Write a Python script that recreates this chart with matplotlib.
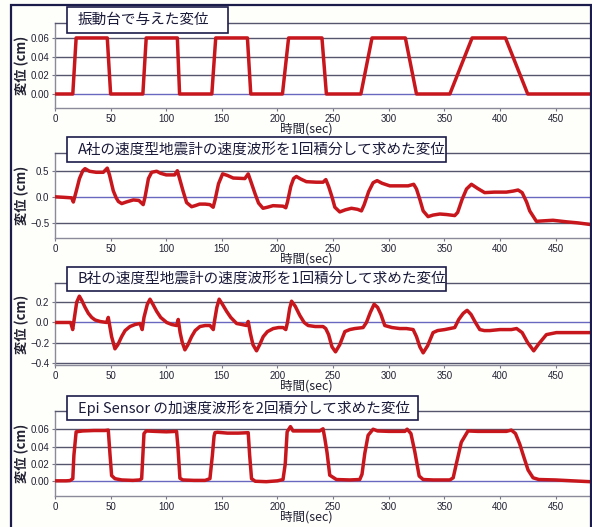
import numpy as np
import matplotlib
matplotlib.use("Agg")
import matplotlib.pyplot as plt
from matplotlib.patches import Rectangle
from matplotlib.font_manager import FontProperties

plt.rcParams['font.family'] = ['Noto Sans CJK JP', 'DejaVu Sans']

# shaking-table input (trapezoid pulses)
t_table = [0, 16, 19, 47, 50, 79, 82, 110, 112, 141, 144.5, 173, 176,
           204.5, 210, 240, 244, 275, 285, 315, 325, 355, 375, 405, 425, 481]
d_table = [0, 0, 0.06, 0.06, 0, 0, 0.06, 0.06, 0, 0, 0.06, 0.06, 0,
           0, 0.06, 0.06, 0, 0, 0.06, 0.06, 0, 0, 0.06, 0.06, 0, 0]

# company A velocity seismometer, integrated once
t_a = [0, 8, 15, 16.5, 19, 22, 25, 27, 31, 37, 43.4, 47, 49, 52.4, 55, 57, 60,
       64, 70.4, 75.4, 79.3, 81, 84, 86.9, 91.4, 95, 100, 107.6, 110, 112, 115,
       118.3, 122.8, 126, 130, 135, 139.3, 142.2, 144, 147, 150.7, 155, 160.2,
       170.7, 173.7, 176, 180, 183, 187, 191, 196, 205, 207.5, 209, 212, 214.5,
       217, 221, 226, 235, 241, 243.5, 246, 249, 251.6, 256, 261, 266.5, 272,
       275.5, 278, 282, 286, 289.6, 294, 301, 310, 317.5, 322.5, 325, 328, 331,
       335.4, 340, 346, 352, 359.4, 362, 366, 370, 374.4, 380, 386.3, 395,
       405.8, 412, 416.3, 420, 424, 426.8, 432.8, 440, 447.7, 460, 470, 481]
d_a = [0, -0.01, -0.02, -0.1, 0.1, 0.35, 0.5, 0.54, 0.49, 0.47, 0.47, 0.55,
       0.42, 0.115, -0.02, -0.09, -0.13, -0.1, -0.06, -0.07, -0.15, 0.0, 0.35,
       0.47, 0.49, 0.45, 0.42, 0.42, 0.5, 0.35, 0.12, -0.11, -0.19, -0.17,
       -0.14, -0.14, -0.15, -0.2, -0.05, 0.25, 0.44, 0.41, 0.36, 0.35, 0.44,
       0.3, 0.05, -0.12, -0.22, -0.2, -0.17, -0.18, -0.21, -0.1, 0.2, 0.35,
       0.39, 0.34, 0.29, 0.28, 0.28, 0.33, 0.2, 0.0, -0.2, -0.29, -0.25, -0.22,
       -0.24, -0.27, -0.15, 0.1, 0.27, 0.31, 0.26, 0.21, 0.21, 0.21, 0.24,
       0.15, -0.05, -0.27, -0.38, -0.35, -0.33, -0.34, -0.36, -0.3, -0.05,
       0.15, 0.24, 0.16, 0.08, 0.09, 0.09, 0.11, 0.13, 0.08, -0.1, -0.27,
       -0.47, -0.46, -0.45, -0.48, -0.5, -0.53]

# company B velocity seismometer, integrated once
t_b = [0, 14.1, 15.9, 17.5, 19.5, 21.9, 24, 27, 30, 33, 36, 40.4, 46.4, 47.9,
       49, 50.9, 53.9, 56.5, 59.9, 63, 67.4, 72, 76.4, 78.4, 80, 83, 85.4, 88,
       91.4, 95, 100.4, 105, 109.3, 110.8, 112.5, 114.5, 116.8, 119.5, 122.8,
       126, 130.3, 135, 139.3, 142.3, 143.5, 145.5, 147.6, 150.5, 154.3, 158,
       163.3, 168, 172.2, 173.7, 175.5, 178, 181.2, 184, 187.2, 191, 196.2, 201,
       205.1, 207.5, 209, 211, 212.7, 216, 220.1, 224, 227.6, 234, 241, 243.4,
       246, 249, 252.2, 256, 260.6, 265, 269.5, 277, 280, 283.5, 286.9, 290,
       293, 296.5, 303, 310, 316, 322, 325, 328, 331, 335, 339.9, 344, 350.4,
       359.4, 363, 367, 370.5, 374, 378, 381.9, 386, 390.8, 400, 410.3, 415,
       420, 425, 430.4, 435, 441.8, 450.8, 465, 481]
d_b = [0, 0, -0.07, 0.05, 0.2, 0.26, 0.22, 0.15, 0.09, 0.05, 0.025, 0.01, 0.0,
       0.05, -0.02, -0.14, -0.26, -0.22, -0.14, -0.08, -0.04, -0.02, -0.01,
       -0.07, 0.05, 0.18, 0.23, 0.18, 0.11, 0.05, 0.0, -0.02, -0.03, 0.03,
       -0.1, -0.2, -0.27, -0.22, -0.14, -0.08, -0.04, -0.03, -0.03, -0.07,
       0.02, 0.15, 0.23, 0.18, 0.11, 0.05, -0.01, -0.02, -0.03, 0.01, -0.1,
       -0.22, -0.28, -0.22, -0.14, -0.09, -0.06, -0.05, -0.05, -0.07, 0.0,
       0.14, 0.21, 0.16, 0.07, 0.0, -0.03, -0.04, -0.04, -0.06, -0.12, -0.24,
       -0.29, -0.22, -0.09, -0.07, -0.06, -0.05, 0.0, 0.1, 0.18, 0.15, 0.08,
       -0.03, -0.05, -0.06, -0.06, -0.07, -0.14, -0.24, -0.3, -0.23, -0.1,
       -0.08, -0.07, -0.05, 0.03, 0.09, 0.12, 0.08, 0.0, -0.07, -0.08, -0.08,
       -0.07, -0.07, -0.06, -0.1, -0.2, -0.28, -0.21, -0.12, -0.1, -0.1, -0.1]

# EpiSensor accelerometer, integrated twice
t_e = [0, 10, 13.5, 16, 17, 19, 25, 35, 45, 47.9, 49.5, 50.9, 53.9, 60, 70,
       76, 77.9, 79, 80, 82, 90, 100, 109.3, 110.5, 112.3, 115, 125, 135,
       139.3, 141.5, 143, 143.8, 146, 155, 165, 173.7, 175, 176.7, 180, 190,
       200, 205, 207, 208.7, 211.7, 214, 217, 225, 238, 241, 242.5, 244.6, 247,
       253, 265, 274, 276, 278.5, 281.5, 286, 290, 300, 314.5, 316.6, 320,
       323.5, 327.4, 331, 340, 355, 358, 360.8, 365.3, 371.3, 380, 395, 405.8,
       410.3, 414, 417.8, 421.5, 425.3, 429.8, 435, 450, 465, 481]
d_e = [0.0005, 0.0005, 0.0008, 0.003, 0.03, 0.057, 0.058, 0.0585, 0.0585,
       0.059, 0.03, 0.0066, 0.003, 0.0015, 0.001, 0.0015, 0.003, 0.03, 0.055,
       0.058, 0.0575, 0.057, 0.0575, 0.04, 0.0035, 0.0015, 0.001, 0.001,
       0.003, 0.03, 0.052, 0.056, 0.0565, 0.0555, 0.0555, 0.056, 0.03, 0.003,
       0.0, -0.0005, 0.0005, 0.002, 0.02, 0.057, 0.063, 0.058, 0.058, 0.058,
       0.058, 0.0605, 0.05, 0.033, 0.007, 0.002, 0.0015, 0.002, 0.008, 0.032,
       0.053, 0.06, 0.058, 0.0575, 0.0575, 0.06, 0.055, 0.034, 0.006, 0.002,
       0.0015, 0.0015, 0.004, 0.02, 0.045, 0.058, 0.0575, 0.0575, 0.0575,
       0.059, 0.055, 0.043, 0.028, 0.013, 0.004, 0.002, 0.0015, 0.0005, -0.0005]

titles = ['振動台で与えた変位',
          'A社の速度型地震計の速度波形を1回積分して求めた変位',
          'B社の速度型地震計の速度波形を1回積分して求めた変位',
          'Epi Sensor の加速度波形を2回積分して求めた変位']

W, H = 592, 527
fig = plt.figure(figsize=(W / 100, H / 100), dpi=100)
fig.patch.set_facecolor('#fefefb')

# outer frame
fig.patches.append(Rectangle((11 / W, -0.01), 580 / W, 1.01 - 5 / H, transform=fig.transFigure,
                             fill=False, edgecolor='#1c1c4a', linewidth=1.6, zorder=0))

# (top, bottom) of each axes and title box, in pixels from the top
ax_rows = [(23, 108), (153, 238), (283, 365), (411, 496)]
box_rows = [(7, 33, 228), (137, 162, 446), (267, 291, 446), (396, 420, 418)]

series = [(t_table, d_table, (-0.015, 0.076), [0, 0.02, 0.04, 0.06], '{:.2f}'),
          (t_a, d_a, (-0.79, 0.84), [-0.5, 0, 0.5], '{:.1f}'),
          (t_b, d_b, (-0.42, 0.39), [-0.4, -0.2, 0, 0.2], '{:.1f}'),
          (t_e, d_e, (-0.017, 0.081), [0, 0.02, 0.04, 0.06], '{:.2f}')]

red = '#c8161d'
grid_c = '#55556e'
tick_font = FontProperties(family='Liberation Sans', size=7)

for i, (t, d, ylim, yt, fmt) in enumerate(series):
    top, bot = ax_rows[i]
    ax = fig.add_axes([55 / W, 1 - bot / H, 535 / W, (bot - top) / H])
    ax.set_facecolor('white')
    ax.plot(t, d, color=red, linewidth=2.5, solid_joinstyle='round', zorder=3)
    ax.set_xlim(0, 481)
    ax.set_ylim(*ylim)
    ax.set_xticks(np.arange(0, 451, 50))
    ax.set_yticks(yt)
    ax.set_yticklabels([fmt.format(v).replace('-', '\u2212') for v in yt])
    for lab in ax.get_xticklabels() + ax.get_yticklabels():
        lab.set_fontproperties(tick_font)
        lab.set_color('#222233')
    ax.tick_params(length=2.5, width=0.8, color='#777788', pad=1.5)
    for v in yt:
        ax.axhline(v, color='#6868c0' if v == 0 else grid_c, linewidth=1.0, zorder=1)
    for side in ['left', 'bottom']:
        ax.spines[side].set_color('#8a8a9a')
        ax.spines[side].set_linewidth(1.0)
    ax.spines['top'].set_color(grid_c)
    ax.spines['top'].set_linewidth(1.0)
    ax.spines['right'].set_visible(False)
    ax.set_ylabel('変位 (cm)', fontsize=9.5, fontweight='bold', color='#222233')
    ax.yaxis.set_label_coords(-26 / 535, 0.5)
    fig.text(306 / W, 1 - (bot + 21) / H, '時間(sec)', fontsize=9, color='#222233',
             ha='center', va='center')

    # title box over the top edge of the axes
    b_top, b_bot, b_right = box_rows[i]
    fig.patches.append(Rectangle((67 / W, 1 - b_bot / H), (b_right - 67) / W, (b_bot - b_top) / H,
                                 transform=fig.transFigure, facecolor='white',
                                 edgecolor='#1c1c4a', linewidth=1.2, zorder=5))
    fig.text(78 / W, 1 - (b_top + b_bot) / 2 / H, titles[i], fontsize=10.5, color='#1a1a3a',
             ha='left', va='center', zorder=6)

fig.savefig('out.png', dpi=100)
